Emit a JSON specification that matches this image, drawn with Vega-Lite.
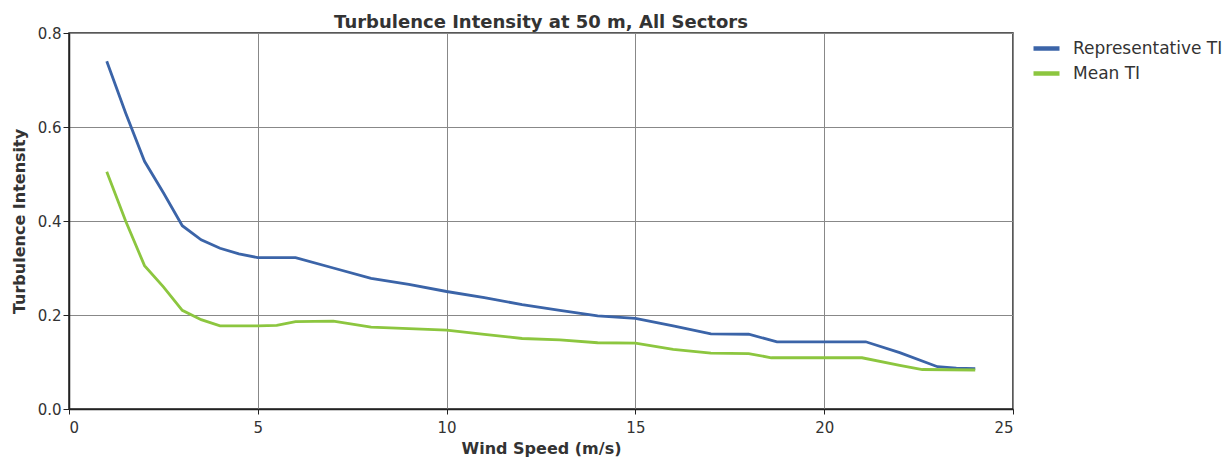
{
  "$schema": "https://vega.github.io/schema/vega-lite/v6.json",
  "width": 944,
  "height": 376,
  "autosize": {"type": "none"},
  "padding": {"left": 69, "top": 33, "right": 215, "bottom": 48},
  "background": "white",
  "title": {
    "text": "Turbulence Intensity at 50 m, All Sectors",
    "font": "DejaVu Sans",
    "fontSize": 18,
    "fontWeight": "bold",
    "color": "#333333",
    "offset": 0,
    "dy": 6,
    "anchor": "middle"
  },
  "config": {
    "view": {"stroke": "#222222", "strokeWidth": 1.5},
    "font": "DejaVu Sans"
  },
  "data": {
    "values": [
      {"ws": 1, "ti": 0.74, "series": "Representative TI"},
      {"ws": 1.5, "ti": 0.63, "series": "Representative TI"},
      {"ws": 2, "ti": 0.527, "series": "Representative TI"},
      {"ws": 2.5, "ti": 0.46, "series": "Representative TI"},
      {"ws": 3, "ti": 0.39, "series": "Representative TI"},
      {"ws": 3.5, "ti": 0.36, "series": "Representative TI"},
      {"ws": 4, "ti": 0.342, "series": "Representative TI"},
      {"ws": 4.5, "ti": 0.33, "series": "Representative TI"},
      {"ws": 5, "ti": 0.322, "series": "Representative TI"},
      {"ws": 6, "ti": 0.322, "series": "Representative TI"},
      {"ws": 7, "ti": 0.3, "series": "Representative TI"},
      {"ws": 8, "ti": 0.278, "series": "Representative TI"},
      {"ws": 9, "ti": 0.265, "series": "Representative TI"},
      {"ws": 10, "ti": 0.25, "series": "Representative TI"},
      {"ws": 11, "ti": 0.237, "series": "Representative TI"},
      {"ws": 12, "ti": 0.222, "series": "Representative TI"},
      {"ws": 13, "ti": 0.21, "series": "Representative TI"},
      {"ws": 14, "ti": 0.198, "series": "Representative TI"},
      {"ws": 15, "ti": 0.193, "series": "Representative TI"},
      {"ws": 16, "ti": 0.177, "series": "Representative TI"},
      {"ws": 17, "ti": 0.16, "series": "Representative TI"},
      {"ws": 18, "ti": 0.159, "series": "Representative TI"},
      {"ws": 18.75, "ti": 0.143, "series": "Representative TI"},
      {"ws": 20, "ti": 0.143, "series": "Representative TI"},
      {"ws": 21.1, "ti": 0.143, "series": "Representative TI"},
      {"ws": 22, "ti": 0.12, "series": "Representative TI"},
      {"ws": 23, "ti": 0.09, "series": "Representative TI"},
      {"ws": 23.5, "ti": 0.087, "series": "Representative TI"},
      {"ws": 24, "ti": 0.086, "series": "Representative TI"},
      {"ws": 1, "ti": 0.505, "series": "Mean TI"},
      {"ws": 1.5, "ti": 0.4, "series": "Mean TI"},
      {"ws": 2, "ti": 0.305, "series": "Mean TI"},
      {"ws": 2.5, "ti": 0.26, "series": "Mean TI"},
      {"ws": 3, "ti": 0.21, "series": "Mean TI"},
      {"ws": 3.5, "ti": 0.19, "series": "Mean TI"},
      {"ws": 4, "ti": 0.177, "series": "Mean TI"},
      {"ws": 5, "ti": 0.177, "series": "Mean TI"},
      {"ws": 5.5, "ti": 0.178, "series": "Mean TI"},
      {"ws": 6, "ti": 0.186, "series": "Mean TI"},
      {"ws": 7, "ti": 0.187, "series": "Mean TI"},
      {"ws": 8, "ti": 0.174, "series": "Mean TI"},
      {"ws": 9, "ti": 0.171, "series": "Mean TI"},
      {"ws": 10, "ti": 0.168, "series": "Mean TI"},
      {"ws": 11, "ti": 0.159, "series": "Mean TI"},
      {"ws": 12, "ti": 0.15, "series": "Mean TI"},
      {"ws": 13, "ti": 0.147, "series": "Mean TI"},
      {"ws": 14, "ti": 0.141, "series": "Mean TI"},
      {"ws": 15, "ti": 0.14, "series": "Mean TI"},
      {"ws": 16, "ti": 0.127, "series": "Mean TI"},
      {"ws": 17, "ti": 0.119, "series": "Mean TI"},
      {"ws": 18, "ti": 0.118, "series": "Mean TI"},
      {"ws": 18.6, "ti": 0.109, "series": "Mean TI"},
      {"ws": 20, "ti": 0.109, "series": "Mean TI"},
      {"ws": 21, "ti": 0.109, "series": "Mean TI"},
      {"ws": 22, "ti": 0.093, "series": "Mean TI"},
      {"ws": 22.6, "ti": 0.084, "series": "Mean TI"},
      {"ws": 24, "ti": 0.083, "series": "Mean TI"}
    ]
  },
  "mark": {"type": "line", "strokeWidth": 2.8, "interpolate": "linear"},
  "encoding": {
    "x": {
      "field": "ws",
      "type": "quantitative",
      "scale": {"domain": [0, 25], "nice": false, "zero": true},
      "axis": {
        "title": "Wind Speed (m/s)",
        "values": [0, 5, 10, 15, 20, 25],
        "titleFont": "DejaVu Sans",
        "titleFontSize": 16,
        "titleFontWeight": "bold",
        "titleColor": "#333333",
        "titlePadding": 5,
        "labelFont": "DejaVu Sans",
        "labelFontSize": 15,
        "labelColor": "#333333",
        "labelPadding": 6,
        "tickColor": "#222222",
        "tickSize": 5,
        "domainColor": "#222222",
        "domainWidth": 1.5,
        "gridColor": "#888888",
        "gridWidth": 1,
        "gridOpacity": 1
      }
    },
    "y": {
      "field": "ti",
      "type": "quantitative",
      "scale": {"domain": [0, 0.8], "nice": false},
      "axis": {
        "title": "Turbulence Intensity",
        "values": [0, 0.2, 0.4, 0.6, 0.8],
        "format": ".1f",
        "titleFont": "DejaVu Sans",
        "titleFontSize": 16,
        "titleFontWeight": "bold",
        "titleColor": "#333333",
        "titlePadding": 10,
        "labelFont": "DejaVu Sans",
        "labelFontSize": 15,
        "labelColor": "#333333",
        "labelPadding": 2,
        "tickColor": "#222222",
        "tickSize": 6,
        "domainColor": "#222222",
        "domainWidth": 1.5,
        "gridColor": "#888888",
        "gridWidth": 1,
        "gridOpacity": 1
      }
    },
    "color": {
      "field": "series",
      "type": "nominal",
      "scale": {
        "domain": ["Representative TI", "Mean TI"],
        "range": ["#3b64a8", "#8cc63f"]
      },
      "legend": {
        "title": null,
        "orient": "none",
        "legendX": 962,
        "legendY": 0,
        "symbolType": "stroke",
        "symbolSize": 676,
        "symbolStrokeWidth": 4.5,
        "labelFont": "DejaVu Sans",
        "labelFontSize": 17,
        "labelColor": "#333333",
        "rowPadding": -6,
        "labelOffset": 11
      }
    }
  }
}
